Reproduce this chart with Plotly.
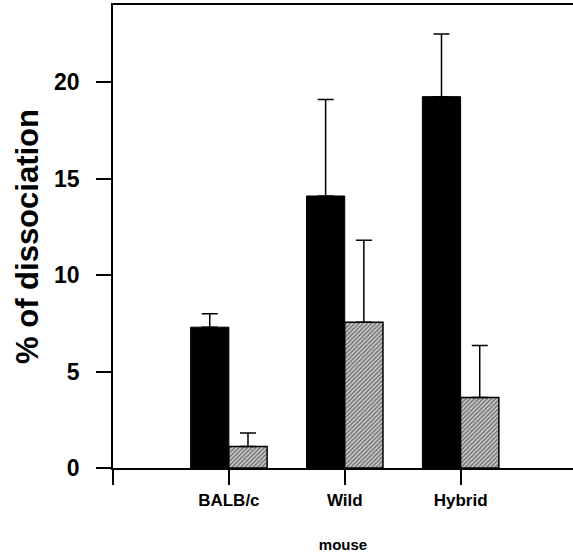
import plotly.graph_objects as go

positions = [1, 2, 3]
categories = ["BALB/c", "Wild", "Hybrid"]
black_vals = [7.3, 14.1, 19.25]
black_err = [0.7, 5.0, 3.25]
hatch_vals = [1.12, 7.56, 3.65]
hatch_err = [0.7, 4.25, 2.7]

fig = go.Figure()
fig.add_trace(go.Bar(
    x=positions, y=black_vals,
    marker=dict(color="black", line=dict(color="black", width=1)),
    error_y=dict(type="data", array=black_err, arrayminus=[0, 0, 0], symmetric=False,
                 color="black", thickness=1.5, width=8),
    showlegend=False,
))
fig.add_trace(go.Bar(
    x=positions, y=hatch_vals,
    marker=dict(color="white", line=dict(color="black", width=1.5),
                pattern=dict(shape="/", fgcolor="#111111", bgcolor="#d0d0d0", size=3, solidity=0.5)),
    error_y=dict(type="data", array=hatch_err, arrayminus=[0, 0, 0], symmetric=False,
                 color="black", thickness=1.5, width=8),
    showlegend=False,
))

fam = "Liberation Sans, Arial, sans-serif"
fig.update_layout(
    width=573, height=553,
    margin=dict(l=113, r=0, t=5, b=83),
    paper_bgcolor="white", plot_bgcolor="white",
    barmode="group", bargap=0.34, bargroupgap=0,
    font=dict(family=fam, color="black"),
    xaxis=dict(
        range=[0, 3.97], tickmode="array", tickvals=[0] + positions, ticktext=[""] + categories,
        ticks="outside", ticklen=15, tickwidth=1.5, tickcolor="black",
        showline=True, linecolor="black", linewidth=1.5, mirror=True,
        showgrid=False, zeroline=False, ticklabelstandoff=1,
        tickfont=dict(size=17, weight="bold", family=fam),
        title=dict(text="mouse", font=dict(size=15, weight="bold", family=fam), standoff=32),
    ),
    yaxis=dict(
        range=[0, 24], tickvals=[0, 5, 10, 15, 20],
        ticks="outside", ticklen=15, tickwidth=1.5, tickcolor="black",
        showline=True, linecolor="black", linewidth=1.5,
        showgrid=False, zeroline=False, ticklabelstandoff=12,
        tickfont=dict(size=23, weight="bold", family=fam),
        title=dict(text="% of dissociation", font=dict(size=31, weight="bold", family=fam), standoff=6),
    ),
)
fig.write_html("out.html", config={"displayModeBar": False},
               post_script="document.body.style.margin='0px';document.body.style.overflow='hidden';")
